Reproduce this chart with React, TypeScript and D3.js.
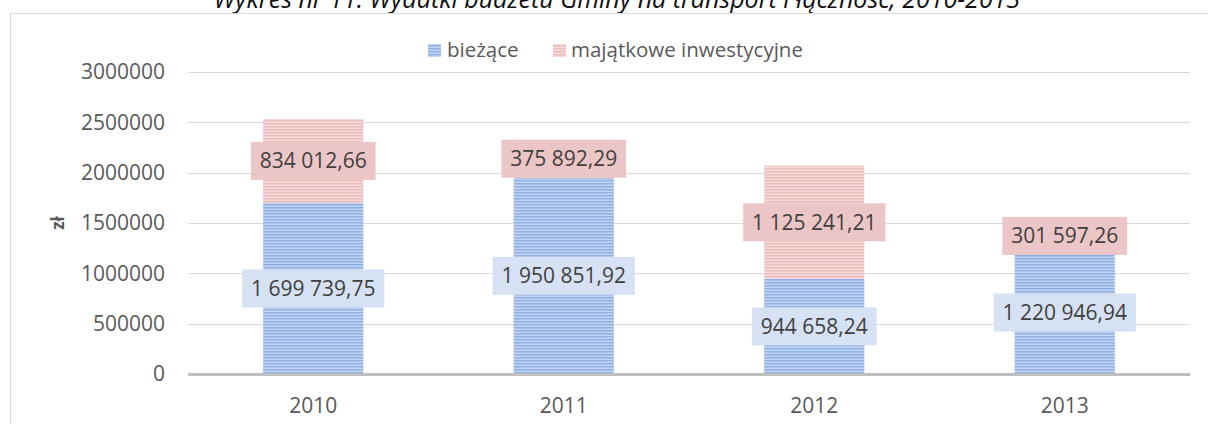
import React from 'react';
import * as d3 from 'd3';

const years = ['2010', '2011', '2012', '2013'];
const biezace = [1699739.75, 1950851.92, 944658.24, 1220946.94];
const majatkowe = [834012.66, 375892.29, 1125241.21, 301597.26];
const yTicks = [0, 500000, 1000000, 1500000, 2000000, 2500000, 3000000];
const seriesNames = ['bieżące', 'majątkowe inwestycyjne'];

const W = 1208;
const H = 424;
const FONT = '"Open Sans", sans-serif';

const plLocale = d3.formatLocale({ decimal: ',', thousands: ' ', grouping: [3], currency: ['', ' zł'] });
const fmtLabel = plLocale.format(',.2f');

const x = d3.scaleBand<string>().domain(years).range([188, 1190]).paddingInner(0.6).paddingOuter(0.3);
const y = d3.scaleLinear().domain([0, 3000000]).range([374, 72]);

const rows = years.map((yr, i) => ({ year: yr, b: biezace[i], m: majatkowe[i] }));
const stacked = d3.stack<{ year: string; b: number; m: number }>().keys(['b', 'm'])(rows);

const fills = ['url(#stripeBlue)', 'url(#stripePink)'];
const boxFills = ['#d6e2f4', '#ecc6c6'];

function labelWidth(s: string) {
  // rough Open Sans 21px width
  let w = 0;
  for (const c of s) w += c === ' ' ? 5.5 : c === ',' ? 5.2 : 12;
  return w;
}

export default function App() {
  return (
    <svg width={W} height={H} style={{ position: 'absolute', left: 0, top: 0, background: '#fff' }} fontFamily={FONT}>
      <defs>
        <pattern id="stripeBlue" width="6" height="3" patternUnits="userSpaceOnUse">
          <rect width="6" height="3" fill="#c2d4f2" />
          <rect width="6" height="1.5" fill="#90b0e4" />
        </pattern>
        <pattern id="stripePink" width="6" height="3" patternUnits="userSpaceOnUse">
          <rect width="6" height="3" fill="#f6dada" />
          <rect width="6" height="1.5" fill="#ebbcbc" />
        </pattern>
      </defs>

      <text x={617} y={8} textAnchor="middle" fontSize={25} fontStyle="italic" fill="#111">
        Wykres nr 11: Wydatki budżetu Gminy na transport i łączność, 2010-2013
      </text>

      <rect x={10.5} y={13.5} width={1400} height={500} fill="none" stroke="#d9d9d9" />

      {yTicks.map(t => (
        <g key={t}>
          {t > 0 && <line x1={188} x2={1190} y1={Math.round(y(t)) + 0.5} y2={Math.round(y(t)) + 0.5} stroke="#d9d9d9" />}
          <text x={165} y={y(t)} dy="0.35em" textAnchor="end" fontSize={21} fill="#595959">
            {d3.format('d')(t)}
          </text>
        </g>
      ))}

      <text transform="translate(58,223) rotate(-90)" textAnchor="middle" dy="0.35em" fontSize={17} fontWeight="bold" fill="#595959">
        zł
      </text>

      {stacked.map((s, si) =>
        s.map(d => (
          <rect
            key={`${si}-${d.data.year}`}
            x={x(d.data.year)}
            width={x.bandwidth()}
            y={y(d[1])}
            height={y(d[0]) - y(d[1])}
            fill={fills[si]}
          />
        ))
      )}

      <line x1={188} x2={1190} y1={374.5} y2={374.5} stroke="#bfbfbf" strokeWidth={3} />

      {stacked.map((s, si) =>
        s.map(d => {
          const val = d[1] - d[0];
          const txt = fmtLabel(val);
          const cx = (x(d.data.year) as number) + x.bandwidth() / 2;
          const cy = y((d[0] + d[1]) / 2);
          const w = labelWidth(txt) + 18;
          return (
            <g key={`l${si}-${d.data.year}`}>
              <rect x={cx - w / 2} y={cy - 19} width={w} height={38} fill={boxFills[si]} />
              <text x={cx} y={cy} dy="0.35em" textAnchor="middle" fontSize={21} fill="#404040">
                {txt}
              </text>
            </g>
          );
        })
      )}

      {years.map(yr => (
        <text key={yr} x={(x(yr) as number) + x.bandwidth() / 2} y={413} textAnchor="middle" fontSize={21} fill="#595959">
          {yr}
        </text>
      ))}

      <g>
        <rect x={428} y={44} width={13} height={13} fill={fills[0]} />
        <text x={447} y={57} fontSize={20.5} fill="#595959">{seriesNames[0]}</text>
        <rect x={553} y={44} width={13} height={13} fill={fills[1]} />
        <text x={571} y={57} fontSize={20.5} fill="#595959">{seriesNames[1]}</text>
      </g>
    </svg>
  );
}
